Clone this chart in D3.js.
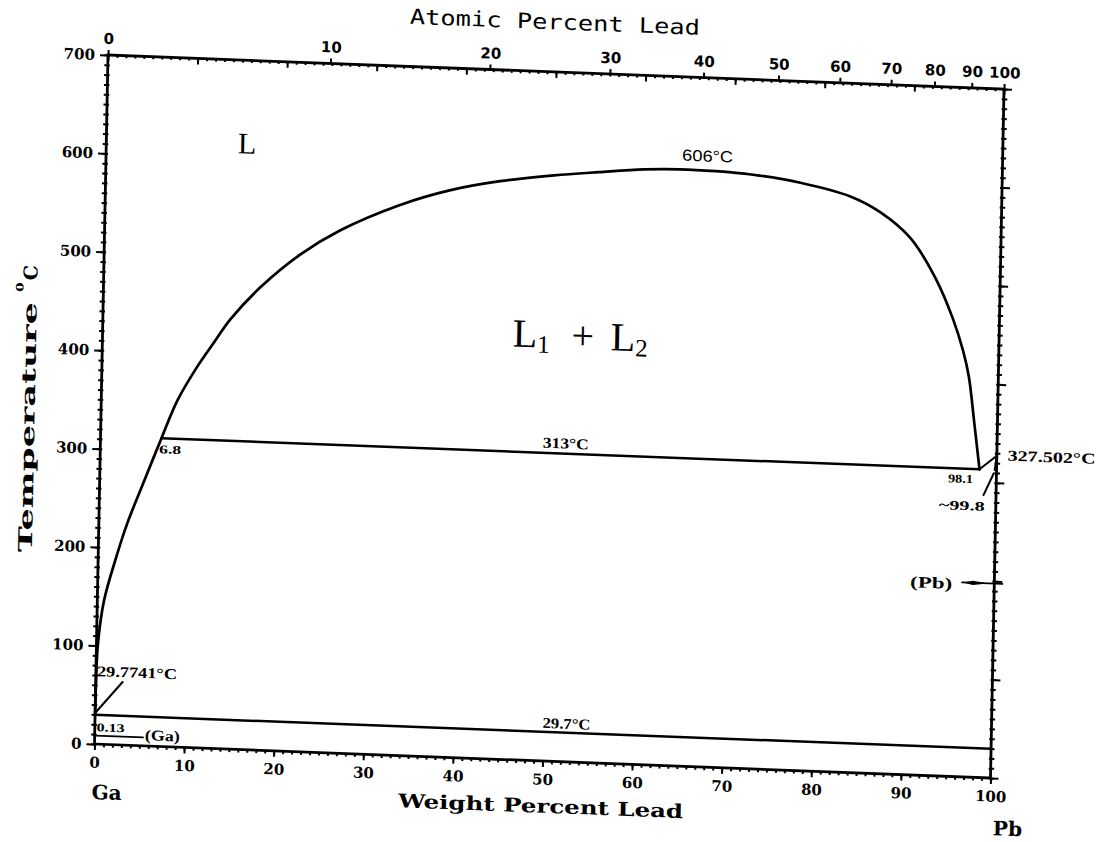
<!DOCTYPE html>
<html>
<head>
<meta charset="utf-8">
<script src="https://cdn.jsdelivr.net/npm/d3@7"></script>
<style>
  body { margin: 0; background: #fff; }
  svg { display: block; }
</style>
</head>
<body>
<div id="chart"></div>
<script>
// --------------- Data ---------------
// Liquidus from pure Ga, through the monotectic point and over the L1 + L2 dome
const liquidusWt = [0, 0.03, 0.15, 0.75, 2.0, 3.2, 4.8, 6.8, 8.5, 10.5, 12.5, 14.2, 17.5, 21.9, 26.3, 32.9, 38.5, 44, 50, 55, 60, 64, 68, 72, 77.5, 83.1, 86.5, 89.9, 92.8, 94.8, 96.0, 96.7, 97.4, 98.1];
const liquidusT = [29.7741, 60, 100, 146, 190, 226, 265, 313, 352, 385, 413, 436, 470, 505, 531, 559, 576, 587, 595, 600, 604.5, 606, 605.5, 603.5, 597, 585, 570, 545, 505, 465, 433, 407, 361, 313];

const monotecticWt = [6.8, 98.1];
const monotecticT = 313;
const eutecticWt = [0, 100];
const eutecticT = 29.7;
const pbLiquidusWt = [98.1, 100];
const pbLiquidusT = [313, 327.502];
const pbSolidusWt = [100, 99.8];
const pbSolidusT = [327.502, 313];

const tempTicks = [0, 100, 200, 300, 400, 500, 600, 700];
const wtTicks = [0, 10, 20, 30, 40, 50, 60, 70, 80, 90, 100];
const atTicks = [0, 10, 20, 30, 40, 50, 60, 70, 80, 90, 100];

// atomic weights, for the atomic percent scale on top
const GA = 69.723;
const PB = 207.2;
const atToWt = (a) => (100 * a * PB) / (a * PB + (100 - a) * GA);

// --------------- Constants ---------------
const WIDTH = 1098;
const HEIGHT = 842;
const W = 896;
const H = 689;
// the scan is slightly turned and sheared
const SCAN = "matrix(1,0.038,-0.0196,1,108,55)";
const SERIF = "'DejaVu Serif', serif";
const TIMES = "'Liberation Serif', serif";

const x = d3.scaleLinear().domain([0, 100]).range([0, W]);
const y = d3.scaleLinear().domain([0, 700]).range([H, 0]);

const svg = d3
  .select("#chart")
  .append("svg")
  .attr("width", WIDTH)
  .attr("height", HEIGHT);

const g = svg.append("g").attr("transform", SCAN);

// --------------- Axes ---------------
function styleAxis(sel, font, size, weight) {
  sel.select(".domain").remove();
  sel.selectAll("line").attr("stroke", "#000").attr("stroke-width", 2);
  sel
    .selectAll("text")
    .attr("font-family", font)
    .attr("font-size", size)
    .attr("font-weight", weight)
    .attr("fill", "#000");
}

const minorT = d3.range(0, 701, 10);
const minorW = d3.range(0, 101, 1);

// left
g.append("g")
  .call(d3.axisLeft(y).tickValues(minorT).tickSize(3.5).tickFormat(""))
  .call(styleAxis, SERIF, 13, "bold");
g.append("g")
  .call(d3.axisLeft(y).tickValues(minorT).tickSize(-2).tickFormat(""))
  .call(styleAxis, SERIF, 13, "bold");
g.append("g")
  .call(d3.axisLeft(y).tickValues(tempTicks).tickSize(8).tickPadding(5))
  .call(styleAxis, SERIF, 15, "bold");

// right
g.append("g")
  .attr("transform", `translate(${W},0)`)
  .call(d3.axisRight(y).tickValues(minorT).tickSize(3.5).tickFormat(""))
  .call(styleAxis, SERIF, 13, "bold");
g.append("g")
  .attr("transform", `translate(${W},0)`)
  .call(d3.axisRight(y).tickValues(minorT).tickSize(-2).tickFormat(""))
  .call(styleAxis, SERIF, 13, "bold");
g.append("g")
  .attr("transform", `translate(${W},0)`)
  .call(d3.axisRight(y).tickValues(tempTicks).tickSize(8).tickFormat(""))
  .call(styleAxis, SERIF, 13, "bold");

// bottom (weight percent)
g.append("g")
  .attr("transform", `translate(0,${H})`)
  .call(d3.axisBottom(x).tickValues(minorW).tickSize(3).tickFormat(""))
  .call(styleAxis, SERIF, 13, "bold");
g.append("g")
  .attr("transform", `translate(0,${H})`)
  .call(d3.axisBottom(x).tickValues(wtTicks).tickSize(6).tickPadding(7))
  .call(styleAxis, SERIF, 15, "bold");

// top: weight percent ticks point inward, atomic percent ticks outward
g.append("g")
  .call(d3.axisTop(x).tickValues(minorW).tickSize(-2.5).tickFormat(""))
  .call(styleAxis, SERIF, 13, "bold");
g.append("g")
  .call(d3.axisTop(x).tickValues(wtTicks).tickSize(-6).tickFormat(""))
  .call(styleAxis, SERIF, 13, "bold");
g.append("g")
  .call(
    d3
      .axisTop(x)
      .tickValues(atTicks.map(atToWt))
      .tickSize(5)
      .tickPadding(6)
      .tickFormat((_d, i) => atTicks[i])
  )
  .call(styleAxis, "'DejaVu Sans', sans-serif", 15, "bold");

// frame
g.append("rect")
  .attr("x", 0)
  .attr("y", 0)
  .attr("width", W)
  .attr("height", H)
  .attr("fill", "none")
  .attr("stroke", "#000")
  .attr("stroke-width", 2.8);

// --------------- Phase boundaries ---------------
const line = d3
  .line()
  .x((d) => x(d[0]))
  .y((d) => y(d[1]));

const drawPath = (pts, width, curve) =>
  g.append("path")
    .attr("d", line.curve(curve || d3.curveLinear)(pts))
    .attr("fill", "none")
    .attr("stroke", "#000")
    .attr("stroke-width", width)
    .attr("stroke-linejoin", "round")
    .attr("stroke-linecap", "round");

drawPath(liquidusWt.map((w, i) => [w, liquidusT[i]]), 2.7, d3.curveCatmullRom.alpha(0.5));
drawPath(monotecticWt.map((w) => [w, monotecticT]), 2.5);
drawPath(eutecticWt.map((w) => [w, eutecticT]), 2.5);
drawPath(pbLiquidusWt.map((w, i) => [w, pbLiquidusT[i]]), 2);
drawPath(pbSolidusWt.map((w, i) => [w, pbSolidusT[i]]), 2);

// leaders
drawPath([[0.05, 32], [3.0, 64]], 2);
drawPath([[0.1, 8.5], [5.4, 8.5]], 1.8);
drawPath([[98.6, 287], [99.7, 309.5]], 2);
drawPath([[96.4, 197.5], [100.9, 197.5]], 1.8);
g.append("path")
  .attr(
    "d",
    `M${x(96.5)},${y(197.5)} L${x(97.6)},${y(197.5) - 2.2} L${x(99.3)},${y(197.5)} L${x(97.6)},${y(197.5) + 2.2} Z`
  )
  .attr("fill", "#000");

// --------------- Labels ---------------
function label(txt, wt, t, opts) {
  const o = Object.assign(
    { size: 14, family: TIMES, weight: "bold", anchor: "middle" },
    opts || {}
  );
  const el = g
    .append("text")
    .attr("x", x(wt))
    .attr("y", y(t))
    .attr("dy", "0.35em")
    .attr("text-anchor", o.anchor)
    .attr("font-family", o.family)
    .attr("font-size", o.size)
    .attr("font-weight", o.weight)
    .attr("fill", "#000")
    .text(txt);
  if (o.len) el.attr("textLength", o.len).attr("lengthAdjust", "spacingAndGlyphs");
  return el;
}

label("606°C", 67.1, 620.6, { size: 16, family: "'Liberation Sans', sans-serif", weight: "normal", len: 51 });
label("313°C", 51.9, 323.5, { size: 15, len: 46 });
label("29.7°C", 52.6, 39, { size: 15, len: 48 });
label("29.7741°C", 0.12, 74.3, { size: 15, anchor: "start", len: 80 });
label("0.13", 0.2, 17.3, { size: 12, anchor: "start", len: 28 });
label("(Ga)", 5.6, 11.2, { size: 15, anchor: "start", len: 35 });
label("6.8", 7.8, 302, { size: 12, len: 22 });
label("98.1", 96.0, 303, { size: 12, len: 25 });
label("~99.8", 96.2, 275.7, { size: 13, len: 46 });
label("327.502°C", 101.2, 328.3, { size: 15, anchor: "start", len: 88 });
label("(Pb)", 95.3, 196.4, { size: 16, anchor: "end", len: 42 });

label("L", 15.7, 616, { size: 30, weight: "normal" });

// L1 + L2, placed piece by piece
const two = g.append("g").attr("font-family", TIMES).attr("fill", "#000");
const part = (txt, px, sub, anchor) => {
  const t = two
    .append("text")
    .attr("x", px)
    .attr("y", 276)
    .attr("font-size", 40)
    .attr("text-anchor", anchor || "start");
  t.append("tspan").text(txt);
  if (sub) t.append("tspan").attr("font-size", 25).attr("dy", 5).text(sub);
};
part("L", 410, "1");
part("+", 480, null, "middle");
part("L", 508, "2");

// axis titles
g.append("text")
  .attr("x", 446)
  .attr("y", -50)
  .attr("dy", "0.35em")
  .attr("text-anchor", "middle")
  .attr("font-family", "'DejaVu Sans Mono', monospace")
  .attr("font-size", 21)
  .attr("textLength", 290)
  .attr("lengthAdjust", "spacingAndGlyphs")
  .text("Atomic Percent Lead");

g.append("text")
  .attr("x", 447)
  .attr("y", 734)
  .attr("dy", "0.35em")
  .attr("text-anchor", "middle")
  .attr("font-family", SERIF)
  .attr("font-weight", "bold")
  .attr("font-size", 19)
  .attr("textLength", 285)
  .attr("lengthAdjust", "spacingAndGlyphs")
  .text("Weight Percent Lead");

const ty = g.append("g").attr("transform", "translate(-73,350) rotate(-90)");
ty.append("text")
  .attr("x", -150)
  .attr("y", 0)
  .attr("dy", "0.35em")
  .attr("font-family", SERIF)
  .attr("font-weight", "bold")
  .attr("font-size", 19)
  .attr("textLength", 250)
  .attr("lengthAdjust", "spacingAndGlyphs")
  .text("Temperature");
ty.append("text")
  .attr("x", 110)
  .attr("y", -7)
  .attr("font-family", SERIF)
  .attr("font-weight", "bold")
  .attr("font-size", 14)
  .text("o");
ty.append("text")
  .attr("x", 122)
  .attr("y", 0)
  .attr("dy", "0.35em")
  .attr("font-family", SERIF)
  .attr("font-weight", "bold")
  .attr("font-size", 19)
  .text("C");

g.append("text")
  .attr("x", 13)
  .attr("y", 737)
  .attr("dy", "0.35em")
  .attr("text-anchor", "middle")
  .attr("font-family", SERIF)
  .attr("font-weight", "bold")
  .attr("font-size", 20)
  .text("Ga");

g.append("text")
  .attr("x", 914)
  .attr("y", 739)
  .attr("dy", "0.35em")
  .attr("text-anchor", "middle")
  .attr("font-family", SERIF)
  .attr("font-weight", "bold")
  .attr("font-size", 20)
  .text("Pb");
</script>
</body>
</html>
